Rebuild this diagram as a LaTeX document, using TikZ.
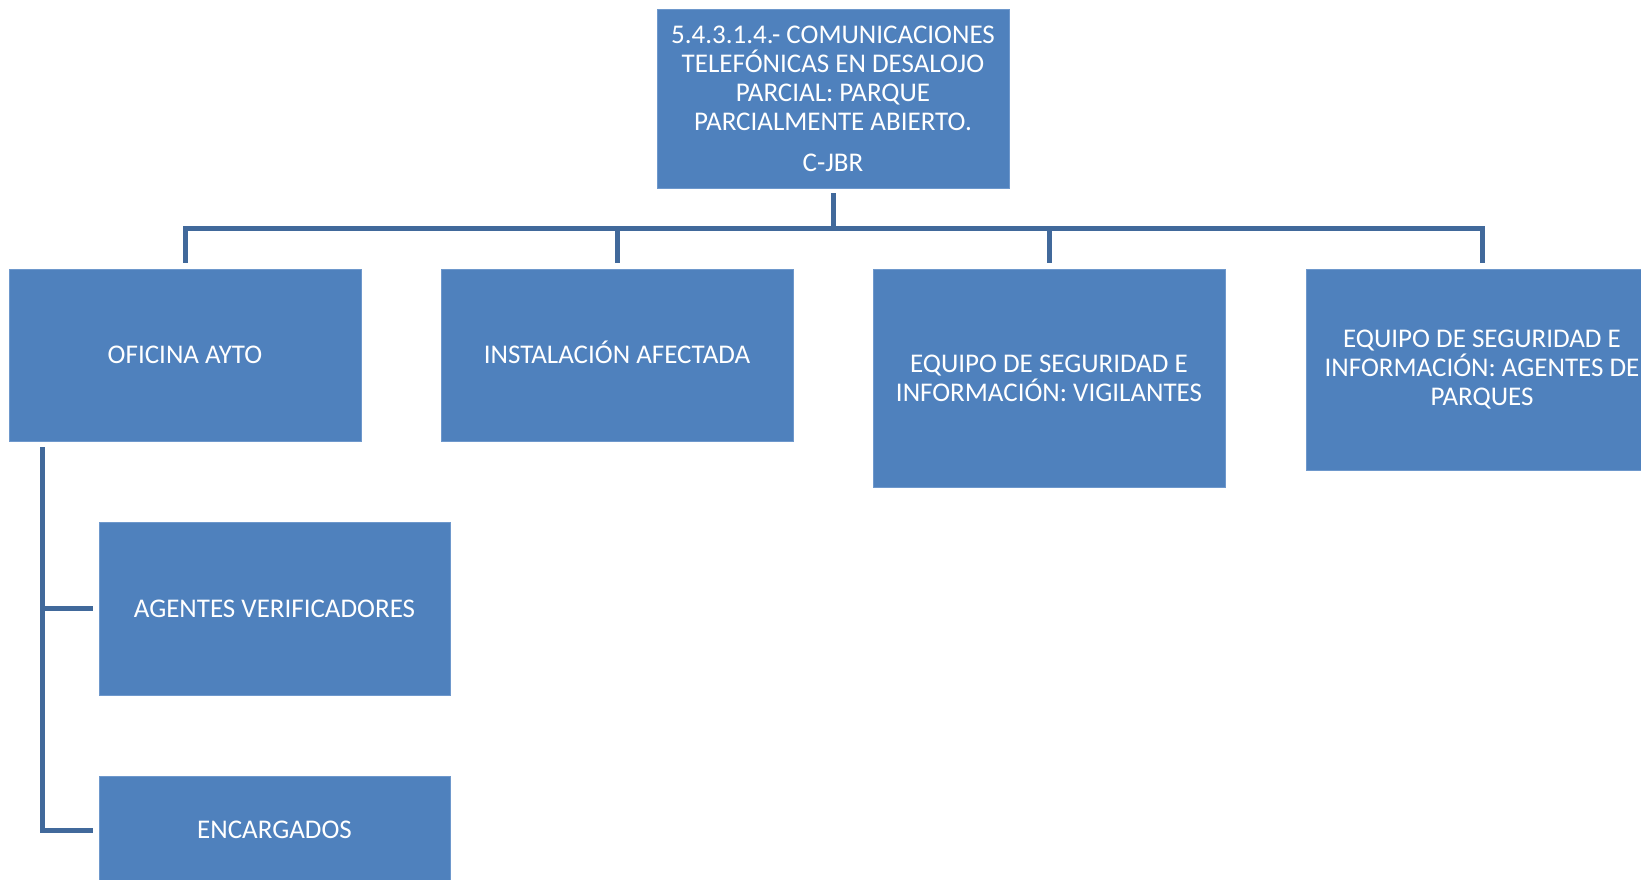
\documentclass[tikz,border=0pt]{standalone}
\usepackage{fontspec}
\setmainfont{Carlito}
\usetikzlibrary{calc}
\definecolor{boxblue}{HTML}{4F81BD}
\definecolor{boxedge}{HTML}{6E98CC}
\definecolor{linecol}{HTML}{41699B}
\begin{document}
\begin{tikzpicture}[x=1pt,y=-1pt,
  box/.style={fill=boxblue, draw=boxedge, line width=0.8pt, text=white, inner sep=0pt,
    align=center, font=\fontsize{27}{29.3}\selectfont},
  conn/.style={draw=linecol, line width=5pt}]
\useasboundingbox (0,0) rectangle (1641,880);
\clip (0,0) rectangle (1641,880);
% top node
\node[box, minimum width=352pt, minimum height=179pt] (top) at (833,98.5)
  {5.4.3.1.4.- COMUNICACIONES\\TELEFÓNICAS EN DESALOJO\\PARCIAL: PARQUE\\PARCIALMENTE ABIERTO.\\[11pt]C-JBR};
% level 1
\node[box, minimum width=352pt, minimum height=172pt] (b1) at (185,355) {OFICINA AYTO};
\node[box, minimum width=352pt, minimum height=172pt, text height=17.4pt, text depth=0pt] (b2) at (617,355) {INSTALACIÓN AFECTADA};
\node[box, minimum width=352pt, minimum height=218pt] (b3) at (1049,378) {EQUIPO DE SEGURIDAD E\\INFORMACIÓN: VIGILANTES};
\node[box, minimum width=352pt, minimum height=201pt] (b4) at (1482,369.5) {EQUIPO DE SEGURIDAD E\\INFORMACIÓN: AGENTES DE\\PARQUES};
% level 2
\node[box, minimum width=351pt, minimum height=173pt] (av) at (274.5,608.5) {AGENTES VERIFICADORES};
\node[box, minimum width=351pt, minimum height=108pt] (enc) at (274.5,830) {ENCARGADOS};
% connectors
\coordinate (bus) at (0,228);
\draw[conn] ($(top.south)+(0,5)$) -- (top.south |- bus);
\draw[conn] ($(b1.north)+(0,-6)$) -- (b1.north |- bus) -- (b4.north |- bus) -- ($(b4.north)+(0,-6)$);
\draw[conn] ($(b2.north)+(0,-6)$) -- (b2.north |- bus);
\draw[conn] ($(b3.north)+(0,-6)$) -- (b3.north |- bus);
\coordinate (spine) at ($(b1.south west)+(34,6)$);
\draw[conn] (spine) |- ($(av.west)+(-6,0)$);
\draw[conn] (spine) |- ($(enc.west)+(-6,0)$);
\end{tikzpicture}
\end{document}
